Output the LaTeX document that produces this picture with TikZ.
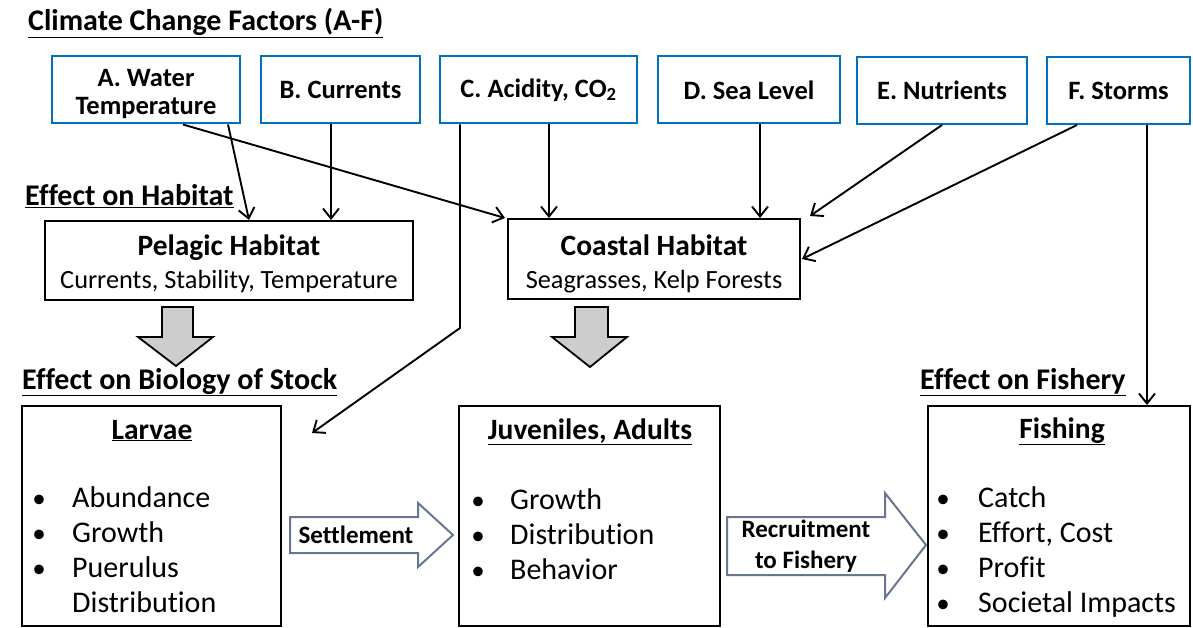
\documentclass[tikz,border=0pt]{standalone}
\usepackage{fontspec}
\setmainfont{Carlito}[Ligatures=NoCommon]
\usetikzlibrary{arrows.meta}
\definecolor{fblue}{RGB}{0,112,192}
\definecolor{garrow}{RGB}{205,205,205}
\definecolor{barrow}{RGB}{105,118,145}
\begin{document}
\begin{tikzpicture}[x=1pt,y=-1pt,
  factor/.style={draw=fblue, line width=2pt, fill=white, inner sep=0pt, minimum height=67pt, align=center, font=\fontsize{26.5}{27}\selectfont\bfseries},
  box/.style={draw=black, line width=2pt, inner sep=0pt},
  heading/.style={anchor=base west, inner sep=0pt, font=\fontsize{30}{30}\selectfont\bfseries},
  htitle/.style={anchor=base, inner sep=0pt, font=\fontsize{29.5}{30}\selectfont\bfseries},
  hsub/.style={anchor=base, inner sep=0pt, font=\fontsize{26.3}{30}\selectfont},
  stitle/.style={anchor=base, inner sep=0pt, font=\fontsize{29.5}{30}\selectfont\bfseries},
  bul/.style={anchor=base, inner sep=0pt, font=\fontsize{27}{30}\selectfont},
  btext/.style={anchor=base west, inner sep=0pt, font=\fontsize{30}{30}\selectfont},
  conn/.style={-{Straight Barb[length=10pt,width=16pt]}, line width=1.9pt},
  fatarrow/.style={draw=black, line width=1.8pt, fill=garrow, line join=miter},
  flowarrow/.style={draw=barrow, line width=2pt, fill=white, line join=miter},
  alabel/.style={inner sep=0pt, align=center, font=\fontsize{25}{31}\selectfont\bfseries}
]
\path[use as bounding box] (0,0) rectangle (1193,628);

% headings
\node[heading] (h1) at (28,31) {\underline{Climate Change Factors (A-F)}};
\node[heading] (h2) at (25,206) {\underline{Effect on Habitat}};
\node[heading] (h3) at (22,389) {\underline{Effect on Biology of Stock}};
\node[heading] (h4) at (920,389) {\underline{Effect on Fishery}};

% factor boxes
\node[factor, minimum width=188pt] (A) at (146,90) {\rule{0pt}{25pt}A. Water\\[1pt]Temperature};
\node[factor, minimum width=159pt] (B) at (340.5,90) {B. Currents};
\node[factor, minimum width=197pt] (C) at (538.5,90) {C. Acidity, CO\textsubscript{2}};
\node[factor, minimum width=182pt] (D) at (749,90) {D. Sea Level};
\node[factor, minimum width=170pt] (E) at (942,90.5) {E. Nutrients};
\node[factor, minimum width=143pt] (F) at (1118.5,90.5) {F. Storms};

% habitat boxes
\node[box, minimum width=368pt, minimum height=79pt] (pel) at (229,260.5) {};
\node[htitle] (pelT) at (229,255) {Pelagic Habitat};
\node[hsub] (pelS) at (229,288) {Currents, Stability, Temperature};
\node[box, minimum width=292pt, minimum height=80pt] (coast) at (654,259) {};
\node[htitle] (coastT) at (654,255) {Coastal Habitat};
\node[hsub] (coastS) at (654,288) {Seagrasses, Kelp Forests};

% stage boxes
\node[box, minimum width=259pt, minimum height=220pt] (larv) at (151.5,516) {};
\node[box, minimum width=261pt, minimum height=220pt] (juv) at (589.5,516) {};
\node[box, minimum width=262pt, minimum height=220pt] (fish) at (1059,516) {};

\node[stitle] (larvT) at (152,439) {\underline{Larvae}};
\node[bul] (lb1) at (39,507) {•};
\node[btext] (lt1) at (72,507) {Abundance};
\node[bul] (lb2) at (39,542) {•};
\node[btext] (lt2) at (72,542) {Growth};
\node[bul] (lb3) at (39,577) {•};
\node[btext] (lt3) at (72,577) {Puerulus};
\node[btext] (lt4) at (72,612) {Distribution};

\node[stitle] (juvT) at (590,439) {\underline{Juveniles, Adults}};
\node[bul] (jb1) at (478,509) {•};
\node[btext] (jt1) at (510,509) {Growth};
\node[bul] (jb2) at (478,544) {•};
\node[btext] (jt2) at (510,544) {Distribution};
\node[bul] (jb3) at (478,579) {•};
\node[btext] (jt3) at (510,579) {Behavior};

\node[stitle] (fishT) at (1062,438) {\underline{Fishing}};
\node[bul] (fb1) at (943,507) {•};
\node[btext] (ft1) at (978,507) {Catch};
\node[bul] (fb2) at (943,542) {•};
\node[btext] (ft2) at (978,542) {Effort, Cost};
\node[bul] (fb3) at (943,577) {•};
\node[btext] (ft3) at (978,577) {Profit};
\node[bul] (fb4) at (943,612) {•};
\node[btext] (ft4) at (978,612) {Societal Impacts};

% gray block arrows
\draw[fatarrow] (162,307) -- (193,307) -- (193,337) -- (213,337) -- (176,366) -- (138,337) -- (162,337) -- cycle;
\draw[fatarrow] (575,307) -- (608,307) -- (608,337) -- (627,337) -- (590,367) -- (552,337) -- (575,337) -- cycle;

% settlement / recruitment arrows
\draw[flowarrow] (290,517) -- (418,517) -- (418,503) -- (453,535) -- (418,567) -- (418,553) -- (290,553) -- cycle;
\node[alabel] (settle) at (356,535) {Settlement};
\draw[flowarrow] (727,517) -- (885,517) -- (885,493) -- (926,545) -- (885,598) -- (885,575) -- (727,575) -- cycle;
\node[alabel] (recruit) at (806,546) {Recruitment\\to Fishery};

% connectors
\coordinate (cbend) at (460,328);
\coordinate (ctip) at (312,433);
\draw[conn] ([xshift=82pt]A.south) -- ([xshift=20pt]pel.north);
\draw[conn] ([xshift=37pt]A.south) -- ([xshift=-2pt]coast.north west);
\draw[conn] ([xshift=-9.5pt]B.south) -- ([xshift=102pt]pel.north);
\draw[conn] ([xshift=-78.5pt]C.south) -- (cbend) -- (ctip);
\draw[conn] ([xshift=10.5pt]C.south) -- ([xshift=-105pt]coast.north);
\draw[conn] ([xshift=11pt]D.south) -- ([xshift=106pt]coast.north);
\draw[conn] (E.south) -- ([xshift=9pt,yshift=2pt]coast.north east);
\draw[conn] ([xshift=-41.5pt]F.south) -- ([xshift=1pt]coast.east);
\draw[conn] ([xshift=28.5pt]F.south) -- ([xshift=88pt]fish.north);
\end{tikzpicture}
\end{document}
